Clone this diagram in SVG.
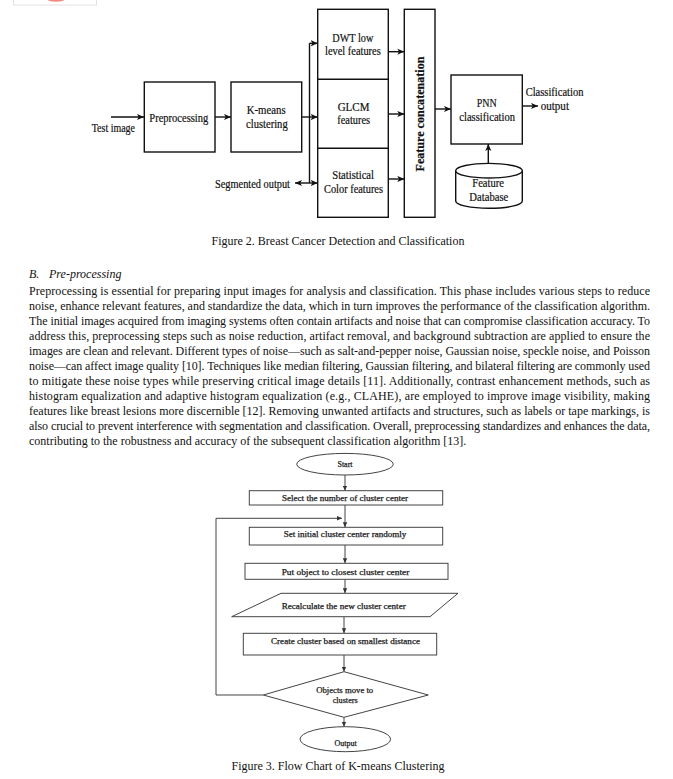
<svg xmlns="http://www.w3.org/2000/svg" width="673" height="779" viewBox="0 0 673 779">
<style>
.t{font-family:"Liberation Serif","Times New Roman",serif;font-size:12px;fill:#111;stroke:#111;stroke-width:0.2}
.p{font-family:"Liberation Serif","Times New Roman",serif;font-size:12px;fill:#111}
.f{font-family:"Liberation Serif","Times New Roman",serif;font-size:8px;fill:#222;stroke:#222;stroke-width:0.25}
.b{fill:#fff;stroke:#111;stroke-width:1.4}
.l{fill:none;stroke:#111;stroke-width:1.4}
.fb{fill:#fff;stroke:#444;stroke-width:1}
.fl{fill:none;stroke:#444;stroke-width:1}
</style>
<defs>
<marker id="ah" viewBox="0 0 8 8" refX="8" refY="4" markerWidth="7" markerHeight="7" markerUnits="userSpaceOnUse" orient="auto-start-reverse"><path d="M0,0.5 L8,4 L0,7.5 L2,4 z" fill="#111"/></marker>
<marker id="fh" viewBox="0 0 8 8" refX="8" refY="4" markerWidth="5" markerHeight="5" markerUnits="userSpaceOnUse" orient="auto"><path d="M0,0.5 L8,4 L0,7.5 z" fill="#333"/></marker>
</defs>
<rect width="673" height="779" fill="#fff"/>
<g id="corner-artifact">
<rect x="13.5" y="-1" width="83" height="6" fill="#fff" stroke="#e2e2e2" stroke-width="1"/>
<ellipse cx="56" cy="-2" rx="10" ry="3.8" fill="#f28a80"/>
</g>

<!-- Figure 2 -->
<g id="connectors-fig2">
<line class="l" x1="111" y1="117" x2="144" y2="117" marker-end="url(#ah)"/>
<line class="l" x1="215" y1="117" x2="231" y2="117" marker-end="url(#ah)"/>
<line class="l" x1="301.7" y1="117" x2="317.7" y2="117" marker-end="url(#ah)"/>
<line class="l" x1="309.5" y1="43.3" x2="309.5" y2="183"/>
<line class="l" x1="309.5" y1="43.3" x2="317.7" y2="43.3" marker-end="url(#ah)"/>
<line class="l" x1="295" y1="183" x2="317.7" y2="183" marker-start="url(#ah)" marker-end="url(#ah)"/>
<line class="l" x1="388.3" y1="51.7" x2="404.3" y2="51.7" marker-end="url(#ah)"/>
<line class="l" x1="388.3" y1="114" x2="404.3" y2="114" marker-end="url(#ah)"/>
<line class="l" x1="388.3" y1="179" x2="404.3" y2="179" marker-end="url(#ah)"/>
<line class="l" x1="435" y1="109" x2="451" y2="109" marker-end="url(#ah)"/>
<line class="l" x1="522.3" y1="106" x2="538" y2="106" marker-end="url(#ah)"/>
<line class="l" x1="488.3" y1="163.3" x2="488.3" y2="144" marker-end="url(#ah)"/>
</g>
<g id="test-image"><text class="t" x="91.7" y="131.7" textLength="43.3" lengthAdjust="spacingAndGlyphs">Test image</text></g>
<g id="preprocessing">
<rect class="b" x="144.3" y="82" width="70.7" height="70"/>
<text class="t" x="149.3" y="121.7" textLength="59" lengthAdjust="spacingAndGlyphs">Preprocessing</text>
</g>
<g id="kmeans">
<rect class="b" x="231" y="82" width="70.7" height="70"/>
<text class="t" x="246.7" y="114.3" textLength="39" lengthAdjust="spacingAndGlyphs">K-means</text>
<text class="t" x="246" y="128.3" textLength="41.7" lengthAdjust="spacingAndGlyphs">clustering</text>
</g>
<g id="segmented-output"><text class="t" x="215" y="187.7" textLength="75" lengthAdjust="spacingAndGlyphs">Segmented output</text></g>
<g id="features">
<rect class="b" x="317.7" y="9.3" width="70.6" height="208"/>
<line class="l" x1="317.7" y1="79.3" x2="388.3" y2="79.3"/>
<line class="l" x1="317.7" y1="148.3" x2="388.3" y2="148.3"/>
<text class="t" x="332.3" y="41.7" textLength="41" lengthAdjust="spacingAndGlyphs">DWT low</text>
<text class="t" x="325" y="55" textLength="55.7" lengthAdjust="spacingAndGlyphs">level features</text>
<text class="t" x="337.7" y="111" textLength="31.7" lengthAdjust="spacingAndGlyphs">GLCM</text>
<text class="t" x="337.3" y="124.3" textLength="32.7" lengthAdjust="spacingAndGlyphs">features</text>
<text class="t" x="332.3" y="179" textLength="41.7" lengthAdjust="spacingAndGlyphs">Statistical</text>
<text class="t" x="324" y="193.3" textLength="59" lengthAdjust="spacingAndGlyphs">Color features</text>
</g>
<g id="feature-concatenation">
<rect class="b" x="404.3" y="9.3" width="30.7" height="208"/>
<text class="t" font-weight="bold" transform="translate(423.5,114) rotate(-90)" text-anchor="middle" textLength="115" lengthAdjust="spacingAndGlyphs">Feature concatenation</text>
</g>
<g id="pnn">
<rect class="b" x="451" y="75" width="71.3" height="69"/>
<text class="t" x="476.7" y="106.7" textLength="20" lengthAdjust="spacingAndGlyphs">PNN</text>
<text class="t" x="459.3" y="120.7" textLength="55.7" lengthAdjust="spacingAndGlyphs">classification</text>
</g>
<g id="classification-output">
<text class="t" x="525.7" y="95.7" textLength="57.7" lengthAdjust="spacingAndGlyphs">Classification</text>
<text class="t" x="540.7" y="109.5" textLength="28.3" lengthAdjust="spacingAndGlyphs">output</text>
</g>
<g id="feature-database">
<path class="b" d="M455.7,170.7 L455.7,201 A33.3,7.3 0 0 0 522.3,201 L522.3,170.7"/>
<ellipse class="b" cx="489" cy="170.7" rx="33.3" ry="7.3"/>
<text class="t" x="472.3" y="187.3" textLength="31.7" lengthAdjust="spacingAndGlyphs">Feature</text>
<text class="t" x="469.3" y="201" textLength="39" lengthAdjust="spacingAndGlyphs">Database</text>
</g>
<text class="p" x="338" y="245" text-anchor="middle">Figure 2. Breast Cancer Detection and Classification</text>

<!-- Text -->
<g id="section-text">
<text class="p" x="29" y="277.5" font-style="italic">B.</text>
<text class="p" x="49" y="277.5" font-style="italic">Pre-processing</text>
<text class="p" x="29" y="294.5" textLength="621" lengthAdjust="spacing">Preprocessing is essential for preparing input images for analysis and classification. This phase includes various steps to reduce</text>
<text class="p" x="29" y="309.55" textLength="621" lengthAdjust="spacing">noise, enhance relevant features, and standardize the data, which in turn improves the performance of the classification algorithm.</text>
<text class="p" x="29" y="324.6" textLength="621" lengthAdjust="spacing">The initial images acquired from imaging systems often contain artifacts and noise that can compromise classification accuracy. To</text>
<text class="p" x="29" y="339.65" textLength="621" lengthAdjust="spacing">address this, preprocessing steps such as noise reduction, artifact removal, and background subtraction are applied to ensure the</text>
<text class="p" x="29" y="354.7" textLength="621" lengthAdjust="spacing">images are clean and relevant. Different types of noise—such as salt-and-pepper noise, Gaussian noise, speckle noise, and Poisson</text>
<text class="p" x="29" y="369.75" textLength="621" lengthAdjust="spacing">noise—can affect image quality [10]. Techniques like median filtering, Gaussian filtering, and bilateral filtering are commonly used</text>
<text class="p" x="29" y="384.8" textLength="621" lengthAdjust="spacing">to mitigate these noise types while preserving critical image details [11]. Additionally, contrast enhancement methods, such as</text>
<text class="p" x="29" y="399.85" textLength="621" lengthAdjust="spacing">histogram equalization and adaptive histogram equalization (e.g., CLAHE), are employed to improve image visibility, making</text>
<text class="p" x="29" y="414.9" textLength="621" lengthAdjust="spacing">features like breast lesions more discernible [12]. Removing unwanted artifacts and structures, such as labels or tape markings, is</text>
<text class="p" x="29" y="429.95" textLength="621" lengthAdjust="spacing">also crucial to prevent interference with segmentation and classification. Overall, preprocessing standardizes and enhances the data,</text>
<text class="p" x="29" y="445">contributing to the robustness and accuracy of the subsequent classification algorithm [13].</text>
</g>

<!-- Figure 3 -->
<g id="connectors-fig3">
<line class="fl" x1="345" y1="475" x2="345" y2="490.7" marker-end="url(#fh)"/>
<line class="fl" x1="345" y1="505" x2="345" y2="527.3" marker-end="url(#fh)"/>
<polyline class="fl" points="263.3,695 216,695 216,518.3 342,518.3" marker-end="url(#fh)"/>
<line class="fl" x1="345" y1="545" x2="345" y2="563.3" marker-end="url(#fh)"/>
<line class="fl" x1="345" y1="579.3" x2="345" y2="593.3" marker-end="url(#fh)"/>
<line class="fl" x1="344" y1="616.7" x2="344" y2="633.3" marker-end="url(#fh)"/>
<line class="fl" x1="344" y1="655" x2="344" y2="671.7" marker-end="url(#fh)"/>
<line class="fl" x1="344" y1="717.3" x2="344" y2="726.7" marker-end="url(#fh)"/>
</g>
<g id="start">
<ellipse class="fb" cx="345" cy="464.2" rx="48.3" ry="10.8"/>
<text class="f" x="345" y="467" text-anchor="middle">Start</text>
</g>
<g id="select-number">
<rect class="fb" x="249.3" y="490.7" width="193.4" height="14.3"/>
<text class="f" x="345" y="500.5" text-anchor="middle" textLength="126" lengthAdjust="spacingAndGlyphs">Select the number of cluster center</text>
</g>
<g id="set-initial">
<rect class="fb" x="249.3" y="527.3" width="193.4" height="17.7"/>
<text class="f" x="345" y="536.5" text-anchor="middle" textLength="122.7" lengthAdjust="spacingAndGlyphs">Set initial cluster center randomly</text>
</g>
<g id="put-object">
<rect class="fb" x="245" y="563.3" width="203" height="16"/>
<text class="f" x="345.5" y="574.5" text-anchor="middle" textLength="127.7" lengthAdjust="spacingAndGlyphs">Put object to closest cluster center</text>
</g>
<g id="recalculate">
<polygon class="fb" points="281,593.3 458,593.3 430,616.7 231.7,616.7"/>
<text class="f" x="343.7" y="608.5" text-anchor="middle" textLength="124" lengthAdjust="spacingAndGlyphs">Recalculate the new cluster center</text>
</g>
<g id="create-cluster">
<rect class="fb" x="243.3" y="633.3" width="193.4" height="21.7"/>
<text class="f" x="345.5" y="643.7" text-anchor="middle" textLength="149" lengthAdjust="spacingAndGlyphs">Create cluster based on smallest distance</text>
</g>
<g id="objects-move">
<polygon class="fb" points="344,671.7 428.3,695 344,717.3 263.3,695"/>
<text class="f" x="344.7" y="692.5" text-anchor="middle" textLength="57" lengthAdjust="spacingAndGlyphs">Objects move to</text>
<text class="f" x="345.2" y="703" text-anchor="middle" textLength="25" lengthAdjust="spacingAndGlyphs">clusters</text>
</g>
<g id="output">
<ellipse class="fb" cx="345.3" cy="739.2" rx="45.3" ry="12.5"/>
<text class="f" x="345.5" y="746" text-anchor="middle">Output</text>
</g>
<text class="p" x="338" y="770" text-anchor="middle">Figure 3. Flow Chart of K-means Clustering</text>
</svg>
